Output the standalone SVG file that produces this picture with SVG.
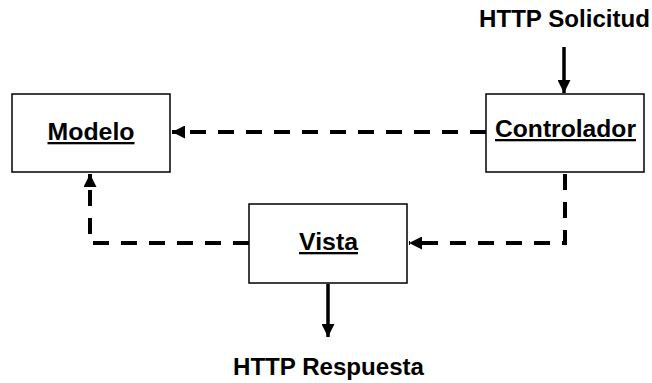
<svg xmlns="http://www.w3.org/2000/svg" width="652" height="383" viewBox="0 0 652 383">
<style>
.box{fill:#fff;stroke:#000;stroke-width:1.5}
.lbl{font-family:"Liberation Sans",Arial,sans-serif;font-weight:bold;font-size:23px;fill:#000;text-anchor:middle}
.u{text-decoration:underline}
.dash{fill:none;stroke:#000;stroke-width:4;stroke-dasharray:16 12}
.solid{fill:none;stroke:#000;stroke-width:3.5}
</style>
<defs>
<marker id="ah" viewBox="0 0 10 10" refX="10" refY="5" markerWidth="13" markerHeight="13" markerUnits="userSpaceOnUse" orient="auto">
<path d="M0,0 L10,5 L0,10 Z" fill="#000"/>
</marker>
</defs>
<rect width="652" height="383" fill="#fff"/>
<g id="connectors">
<line class="dash" x1="486" y1="132" x2="172" y2="132" marker-end="url(#ah)"/>
<polyline class="dash" points="565,174 565,243 409,243" marker-end="url(#ah)"/>
<polyline class="dash" points="249,243 90,243 90,174" marker-end="url(#ah)"/>
<line class="solid" x1="564" y1="47" x2="564" y2="93" marker-end="url(#ah)"/>
<line class="solid" x1="328" y1="284" x2="328" y2="337" marker-end="url(#ah)"/>
</g>
<g id="modelo">
<rect class="box" x="12" y="94" width="158" height="78"/>
<text class="lbl u" x="91" y="140" font-size="24" textLength="87" lengthAdjust="spacingAndGlyphs">Modelo</text>
</g>
<g id="controlador">
<rect class="box" x="486" y="94" width="158" height="78"/>
<text class="lbl u" x="565.5" y="137" font-size="24" textLength="141" lengthAdjust="spacingAndGlyphs">Controlador</text>
</g>
<g id="vista">
<rect class="box" x="249" y="204" width="158" height="79"/>
<text class="lbl u" x="328.5" y="250" font-size="24" textLength="59" lengthAdjust="spacingAndGlyphs">Vista</text>
</g>
<g id="http-solicitud">
<text class="lbl" x="564.5" y="27" textLength="171" lengthAdjust="spacingAndGlyphs">HTTP Solicitud</text>
</g>
<g id="http-respuesta">
<text class="lbl" x="328.5" y="375" textLength="191" lengthAdjust="spacingAndGlyphs">HTTP Respuesta</text>
</g>
</svg>
